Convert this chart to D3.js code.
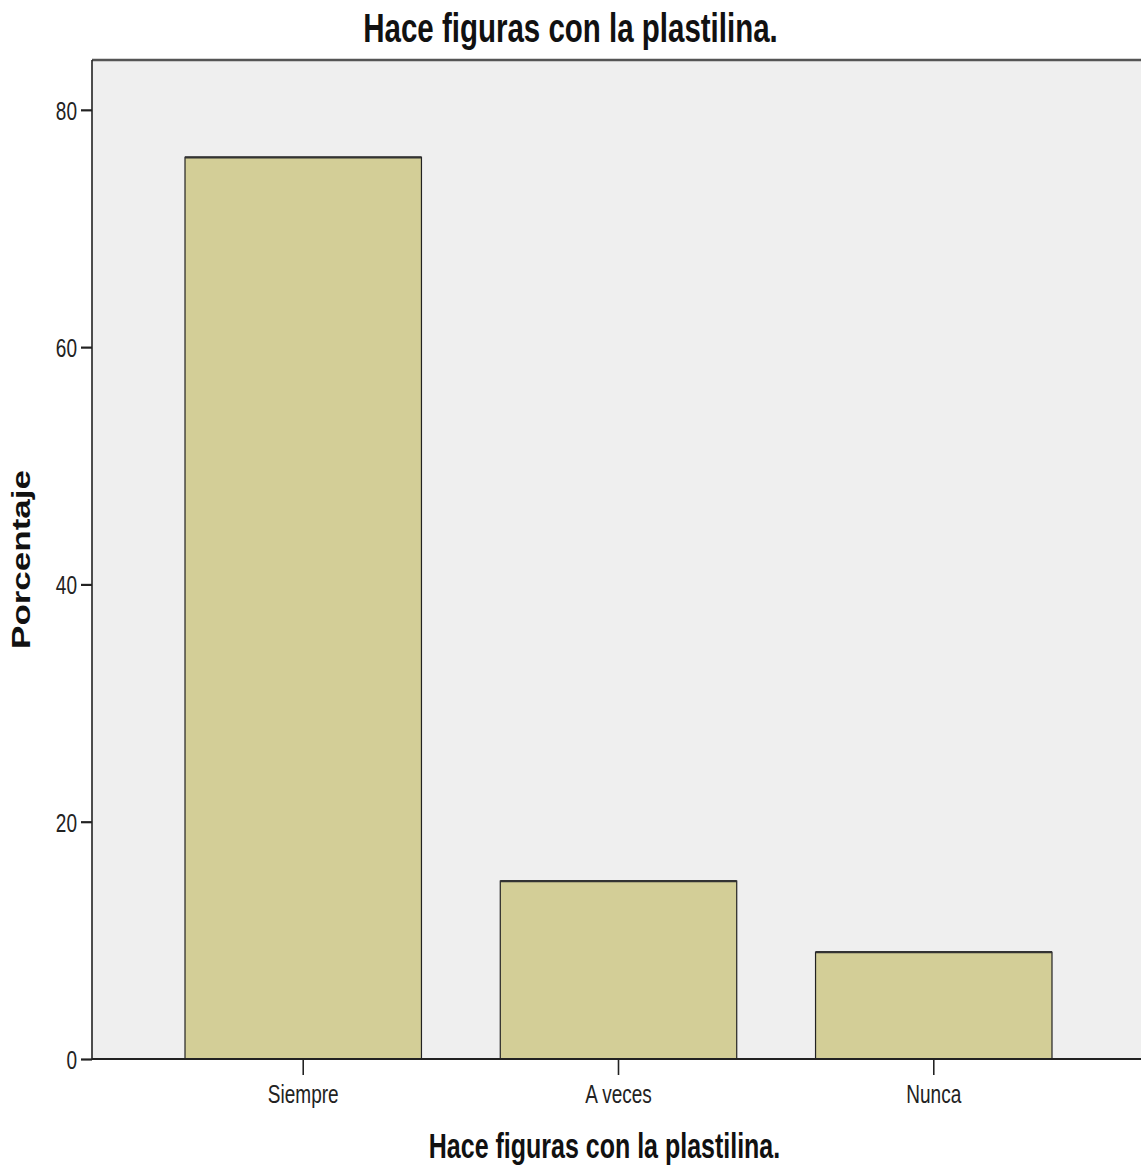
<!DOCTYPE html>
<html>
<head>
<meta charset="utf-8">
<script src="https://cdn.jsdelivr.net/npm/d3@7"></script>
<style>
	html, body { margin: 0; padding: 0; background: #fff; }
	svg { display: block; }
</style>
</head>
<body>
<div id="chart"></div>
<script>
const chartTitle = 'Hace figuras con la plastilina.';
const xTitle = 'Hace figuras con la plastilina.';
const yTitle = 'Porcentaje';
const categories = ['Siempre', 'A veces', 'Nunca'];
const percentages = [76, 15, 9];
const yTicks = [0, 20, 40, 60, 80];

const width = 1141,
		height = 1171,
		margin = {top: 60, left: 92, bottom: 112},
		plotRight = 1145,
		stretch = 1.4, // the picture is stretched vertically
		fontFamily = '"Liberation Sans", Arial, sans-serif';

const svg = d3.select('#chart').append('svg')
	.attr('width', width)
	.attr('height', height);

// ###
// SCALES
// ###

const x = d3.scaleBand()
	.domain(categories)
	.range([margin.left, plotRight])
	.paddingInner(0.25)
	.paddingOuter(0.295);

const y = d3.scaleLinear()
	.domain([0, 84.2])
	.range([height - margin.bottom, margin.top]);

const y0 = y(0);

// plot background
svg.append('rect')
	.attr('x', margin.left)
	.attr('y', margin.top)
	.attr('width', plotRight - margin.left)
	.attr('height', y0 - margin.top)
	.attr('fill', '#efefef');

// ###
// BARS
// ###

const bars = svg.append('g').attr('class', 'bars');

bars.selectAll('rect')
	.data(categories)
	.join('rect')
	.attr('x', d => x(d))
	.attr('y', (d, i) => y(percentages[i]))
	.attr('width', x.bandwidth())
	.attr('height', (d, i) => y0 - y(percentages[i]))
	.attr('fill', '#d3ce97')
	.attr('stroke', '#222')
	.attr('stroke-width', 1.2);

// thicker top edges, like the stretched original
bars.selectAll('line')
	.data(categories)
	.join('line')
	.attr('x1', d => x(d))
	.attr('x2', d => x(d) + x.bandwidth())
	.attr('y1', (d, i) => y(percentages[i]))
	.attr('y2', (d, i) => y(percentages[i]))
	.attr('stroke', '#333')
	.attr('stroke-width', 2.2);

// frame top
svg.append('line')
	.attr('x1', margin.left)
	.attr('x2', plotRight)
	.attr('y1', margin.top)
	.attr('y2', margin.top)
	.attr('stroke', '#555')
	.attr('stroke-width', 2.4);

// ###
// AXES
// ###

const yAxis = svg.append('g')
	.attr('class', 'y axis')
	.attr('transform', `translate(${margin.left}, 0)`)
	.call(d3.axisLeft(y).tickValues(yTicks).tickSize(11).tickPadding(0).tickFormat(d3.format('d')));

yAxis.select('.domain')
	.attr('d', `M0,${margin.top}V${y0}`)
	.attr('stroke', '#222')
	.attr('stroke-width', 1.6);

yAxis.selectAll('.tick line')
	.attr('stroke', '#222')
	.attr('stroke-width', 2.2);

yAxis.selectAll('.tick text')
	.attr('x', null).attr('dy', null).attr('y', null)
	.attr('transform', `translate(-15, 0) scale(1, ${stretch}) translate(0, 6.8)`)
	.attr('font-family', fontFamily)
	.attr('font-size', 19)
	.attr('fill', '#222');

const xAxis = svg.append('g')
	.attr('class', 'x axis')
	.attr('transform', `translate(0, ${y0})`)
	.call(d3.axisBottom(x).tickSize(16).tickPadding(0));

xAxis.select('.domain')
	.attr('d', `M${margin.left},0H${plotRight}`)
	.attr('stroke', '#222')
	.attr('stroke-width', 2.2);

xAxis.selectAll('.tick line')
	.attr('stroke', '#222')
	.attr('stroke-width', 1.6);

xAxis.selectAll('.tick text')
	.attr('y', null).attr('dy', null)
	.attr('transform', `translate(0, 44) scale(1, ${stretch})`)
	.attr('font-family', fontFamily)
	.attr('font-size', 19)
	.attr('fill', '#222');

svg.selectAll('.axis').attr('font-family', fontFamily);

// ###
// TITLES
// ###

svg.append('text')
	.attr('transform', `translate(${width / 2}, 42) scale(1, ${stretch})`)
	.attr('text-anchor', 'middle')
	.attr('font-family', fontFamily)
	.attr('font-weight', 'bold')
	.attr('font-size', 29.5)
	.attr('fill', '#111')
	.text(chartTitle);

svg.append('text')
	.attr('transform', `translate(${(margin.left + plotRight) / 2 - 14}, 1158) scale(1, ${stretch})`)
	.attr('text-anchor', 'middle')
	.attr('font-family', fontFamily)
	.attr('font-weight', 'bold')
	.attr('font-size', 25)
	.attr('fill', '#111')
	.text(xTitle);

svg.append('text')
	.attr('transform', `translate(30, ${(margin.top + y0) / 2}) rotate(-90) scale(${stretch}, 1)`)
	.attr('text-anchor', 'middle')
	.attr('font-family', fontFamily)
	.attr('font-weight', 'bold')
	.attr('font-size', 25)
	.attr('fill', '#111')
	.text(yTitle);
</script>
</body>
</html>
